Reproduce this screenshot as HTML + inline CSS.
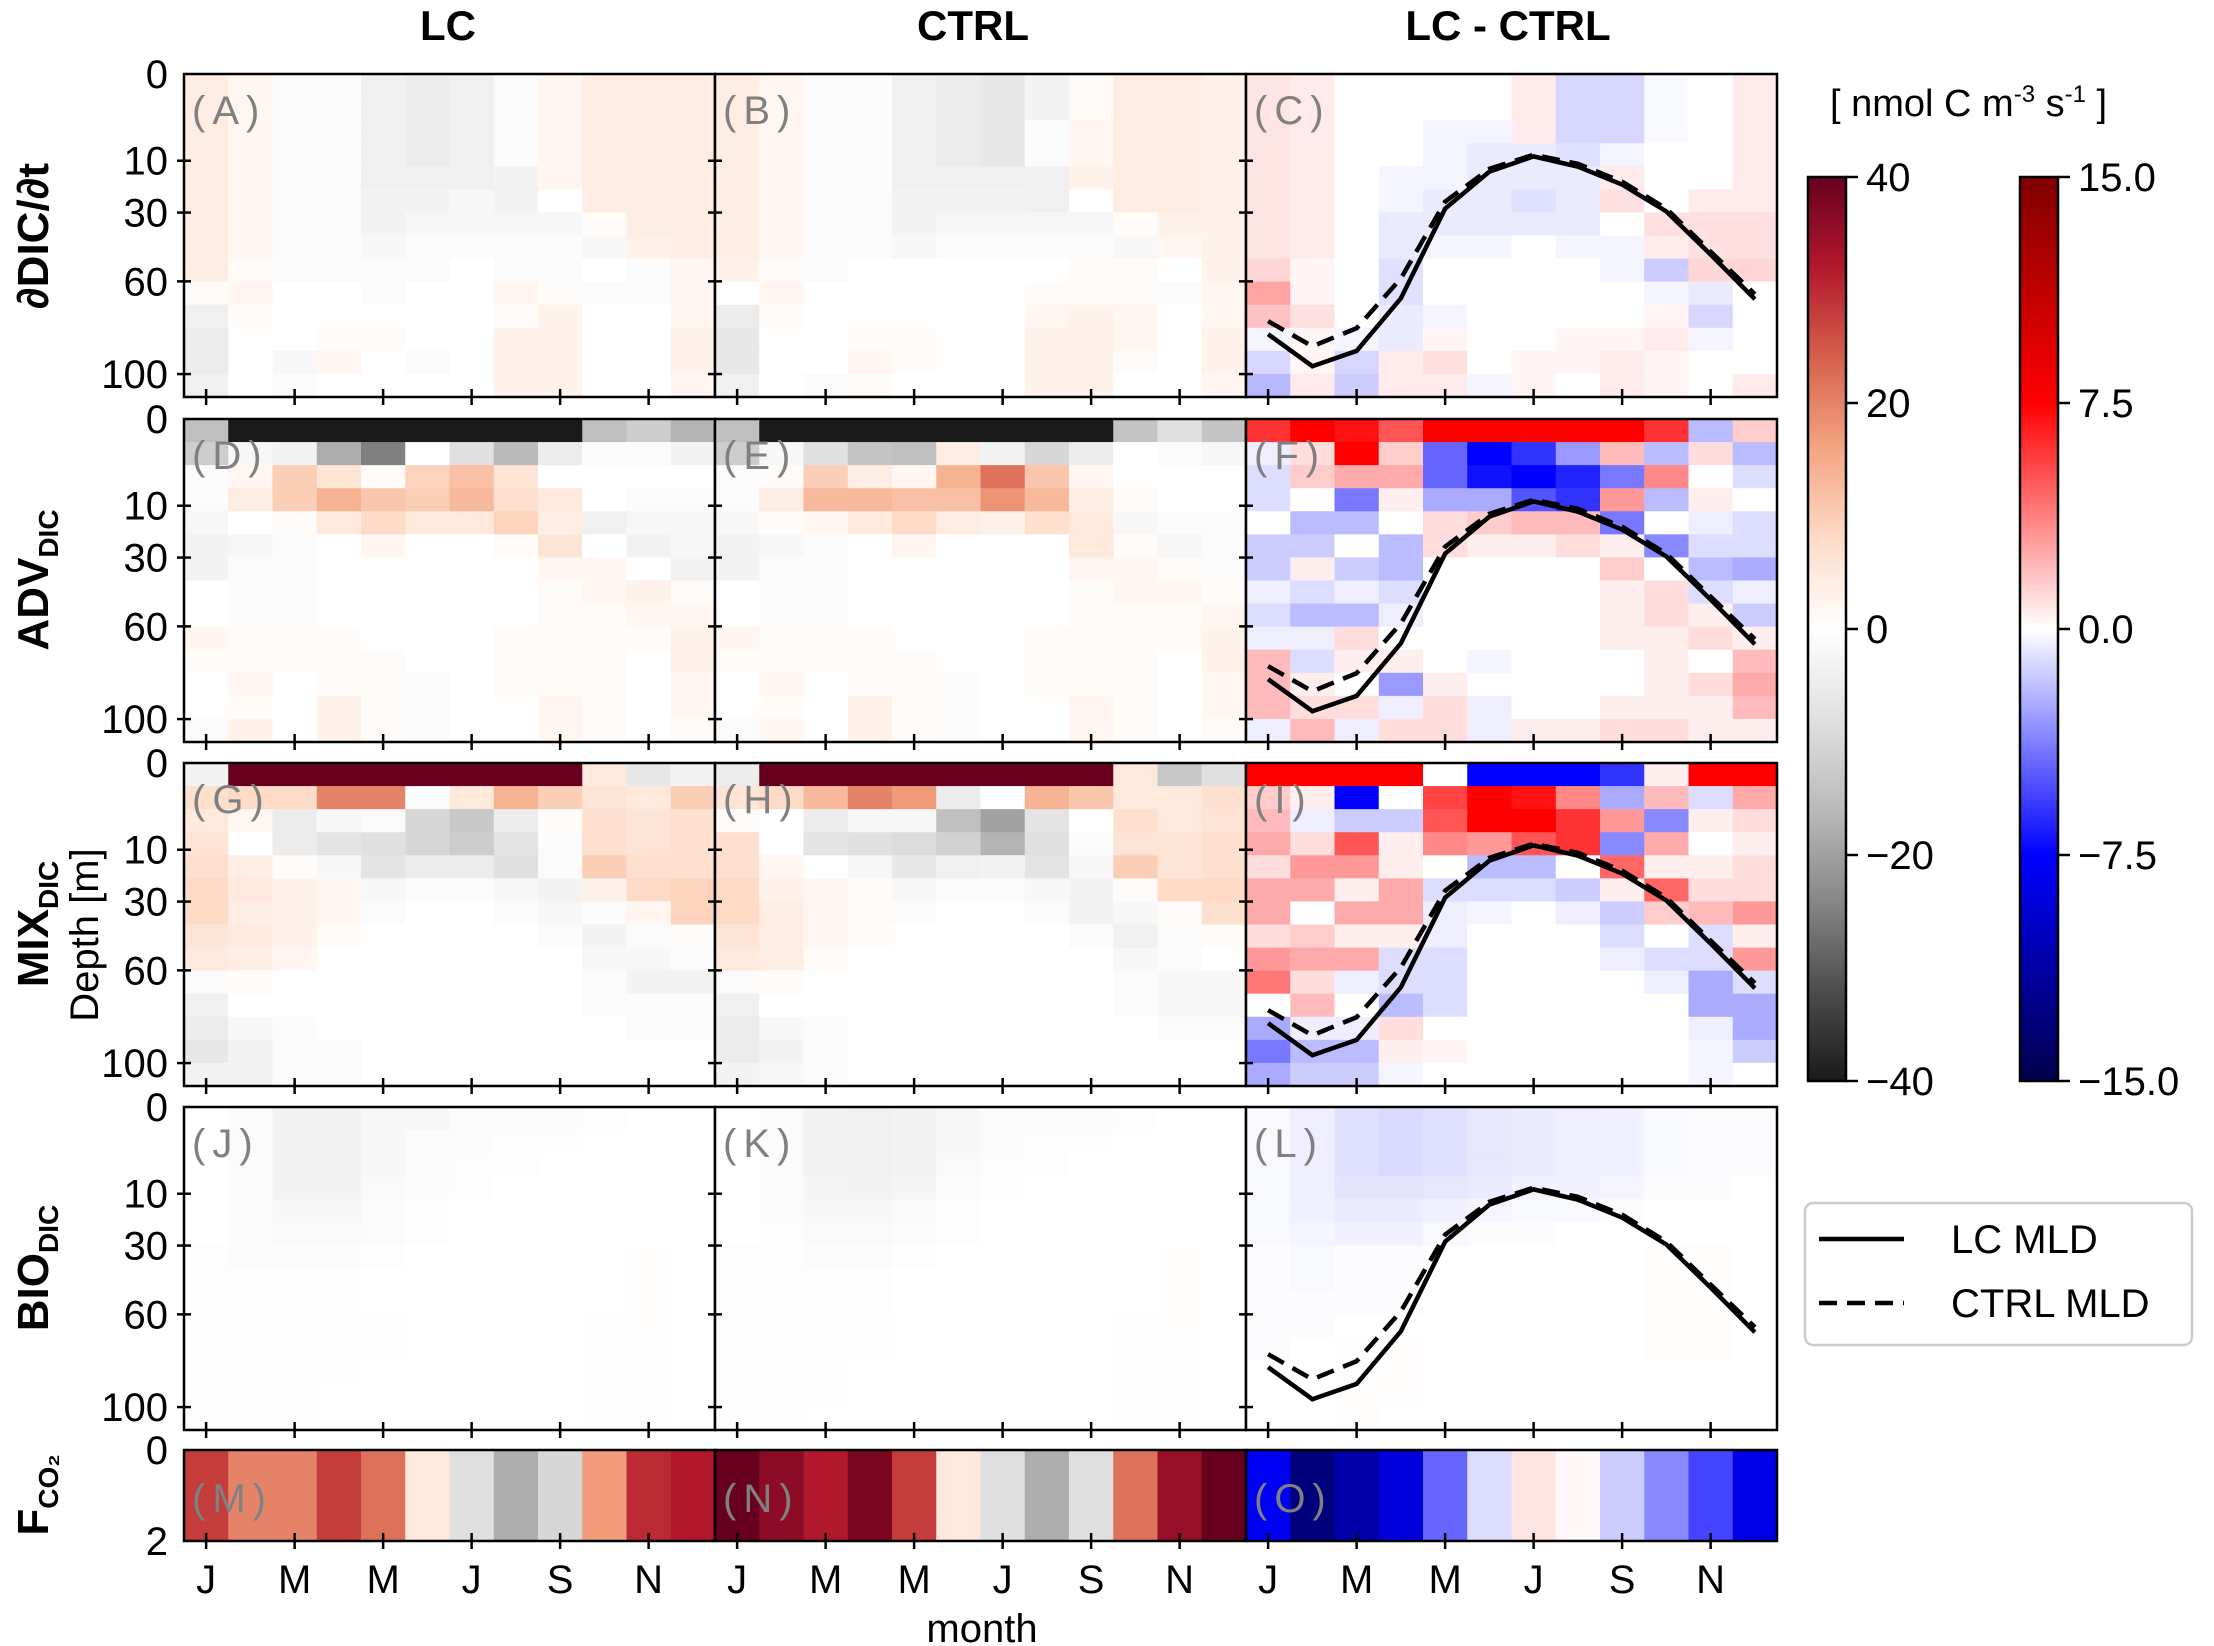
<!DOCTYPE html>
<html><head><meta charset="utf-8"><style>
html,body{margin:0;padding:0;background:#fff;}
svg{display:block;font-family:"Liberation Sans",Arial,sans-serif;}
</style></head><body>
<svg id="fig" width="2214" height="1646" viewBox="0 0 2214 1646" xmlns="http://www.w3.org/2000/svg"></svg>
<script>
const months = ['J','F','M','A','M','J','J','A','S','O','N','D'];
const depthTicks = [0,10,30,60,100];
const depthTickFrac = [0,0.2685,0.429,0.642,0.929];
const cb1Ticks = [40,20,0,-20,-40];
const cb2Ticks = ['15.0','7.5','0.0','-7.5','-15.0'];
const lcMld = [82.8,96.6,90,67.3,28.5,14.2,9.5,12.3,19.2,29.6,48.3,67.7];
const ctrlMld = [77.2,88,80.2,58.7,25.8,13.1,9.3,11.2,18.1,28.5,47,65.5];
const fco2LC = [28,20,20,28,22,5,-8,-18,-10,17,30,32];
const fco2CTRL = [40,36,32,38,28,5,-8,-18,-8,22,35,40];
const fco2Diff = [-8,-13,-11,-9,-4.5,-1,0.8,0.2,-1.5,-3.5,-5.5,-8.5];
const panelA = [
[4,2,-1,-1,-4,-5,-4,-1,2,4,4,4],[4,2,-1,-1,-4,-5,-4,-1,2,4,4,4],[4,2,-1,-1,-4,-5,-4,-1,2,4,4,4],[4,2,-1,-1,-4,-5,-4,-1,2,4,4,4],
[4,2,-1,-1,-4,-4,-4,-3,2,4,4,4],[4,2,-1,-1,-3,-3,-2,-3,0,4,4,4],[4,2,-1,-1,-3,-2,-2,-2,-2,1,4,4],[4,2,-1,-1,-2,-1,-1,-1,-1,-2,3,4],
[4,1,-1,-1,-1,-1,0,-1,-1,0,-1,2],[1,2,0,0,-1,0,0,2,1,-1,-1,2],[-4,1,0,0,0,0,0,1,3,0,0,2],[-5,0,0,1,1,0,0,3,3,0,0,3],
[-5,0,-2,2,0,-1,0,3,3,0,0,3],[-4,0,-1,0,0,0,0,3,3,0,0,2]];
const panelB = [
[4,2,-1,-1,-4,-5,-6,-3,1,4,4,3],[4,2,-1,-1,-4,-5,-6,-3,1,4,4,3],[4,2,-1,-1,-4,-5,-6,-1,2,4,4,3],[4,2,-1,-1,-4,-5,-6,-1,2,4,4,3],
[4,2,-1,-1,-4,-4,-4,-4,3,4,4,3],[4,2,-1,-1,-3,-3,-3,-4,0,4,4,3],[4,2,-1,-1,-3,-2,-2,-2,-2,1,3,3],[4,2,-1,-1,-2,-1,-1,-1,-1,-2,2,3],
[3,1,-1,0,0,0,0,0,1,1,0,3],[0,2,0,0,0,0,0,1,1,1,-1,2],[-5,1,0,0,0,0,0,2,3,2,0,2],[-6,0,0,1,1,0,0,3,3,2,0,3],
[-6,0,0,2,1,0,0,3,3,1,0,3],[-4,0,-1,1,0,0,0,3,3,0,0,2]];
const panelC = [
[0.8,0.6,0,0,0,0,0.6,-1.2,-1.2,-0.2,0,0.6],[0.8,0.6,0,0,0,0,0.6,-1.2,-1.2,-0.2,0,0.6],[0.8,0.6,0,0,-0.3,-0.3,0.6,-1.2,-1.2,-0.2,0,0.6],[0.8,0.6,0,0,-0.3,-0.6,-0.6,-0.9,-0.3,0,0,0.6],
[0.8,0.6,0,-0.3,-0.3,-0.6,-0.6,-0.6,0.6,0,0,0.6],[0.8,0.6,0,-0.3,-0.6,-0.6,-0.9,-0.6,0.9,0,0.6,0.6],[0.8,0.6,0,-0.6,-0.6,-0.6,-0.6,-0.6,0,0.9,0.9,0.9],[0.8,0.6,0,-0.6,-0.3,-0.3,0,-0.3,-0.3,0.6,0.9,0.9],
[1.2,0.3,0,-0.9,0,0,0,0,-0.3,-1.5,1.2,1.2],[2.7,0.3,0,-0.9,0,0,0,0,0,-0.3,-0.6,0],[1.8,0.9,0,-0.6,-0.3,0,0,0,0,0.3,-1.2,0],[-0.3,0.3,-0.3,-0.6,0.3,0,0,0.3,0.3,0.6,-0.3,0],
[-1.2,0.3,-1.2,0.6,0.9,0,0.3,0.3,0.6,0.3,0,0],[-2.1,0.6,-1.5,0.6,0.6,-0.3,0.3,0,0.6,0.3,0,0.6]];
const panelD = [
[-15,-40,-40,-40,-40,-40,-40,-40,-40,-15,-12,-17],[-12,-2,-3,-18,-25,0,-8,-16,-5,-1,-1,-3],[-1,2,10,6,1,9,12,6,0,0,0,0],[-1,4,10,14,11,10,13,7,5,0,-1,-1],
[-2,0,1,5,8,5,5,9,4,-4,-2,-2],[-3,-2,-1,0,2,0,0,1,6,0,-3,-2],[-3,-1,-1,0,0,0,0,0,2,2,0,-3],[0,-1,-1,0,0,0,0,0,1,2,3,1],
[0,-1,-1,0,0,0,0,0,1,1,2,2],[2,1,1,1,0,0,0,1,1,1,1,3],[1,1,1,1,1,0,0,1,1,1,0,3],[0,2,0,1,1,-1,0,1,1,1,0,2],
[0,1,0,3,1,-1,0,0,2,1,0,2],[-1,3,0,3,1,-1,0,0,2,1,0,1]];
const panelE = [
[-15,-40,-40,-40,-40,-40,-40,-40,-40,-14,-8,-14],[-12,-2,-8,-14,-15,4,-3,-10,-5,0,-1,-2],[-1,1,10,4,2,14,22,11,2,0,0,0],[-1,4,13,13,12,12,18,13,4,1,0,0],
[-2,1,2,5,8,4,3,7,5,-2,-1,-1],[-3,-2,-1,0,2,0,0,0,5,1,-2,-1],[-3,-1,-1,0,0,0,0,0,2,2,1,-1],[0,-1,-1,0,0,0,0,0,1,2,2,1],
[0,-1,-1,0,0,0,0,0,1,1,1,2],[2,1,1,1,0,0,0,1,1,1,1,3],[1,1,1,1,1,0,0,1,1,1,0,3],[0,2,0,1,1,-1,0,1,1,1,0,2],
[0,1,0,3,1,-1,0,0,2,1,0,2],[-1,2,0,3,1,-1,0,0,2,1,0,1]];
const panelF = [
[6,7.5,7,5,7.5,7.5,7.5,7.5,7.5,6,-2,1.5],[-0.5,1,7.5,1.5,-4.5,-7.5,-6,-3,2,-2,1,-2],[-1,1.5,2.5,2.5,-4.5,-7,-7.5,-6.5,-4,3.5,0,-1],[-1,0,-4,0.5,-2.5,-2.5,-5,-6,3,-2,0.5,0],
[0,-2,-2,0,1,1.5,2,2,-4,0,-0.5,-1],[-1.5,-1.5,0,-2,1,0.5,0.5,1,0.5,-3.5,-1,-1],[-1.5,0.5,-1.5,-2,0,0,0,0,1.5,0,-2,-2.5],[-0.5,-1,-0.5,-1,0,0,0,0,0.5,1,-1,-0.5],
[-1,-2,-2,-0.5,0,0,0,0,0.5,1,0.5,-1.5],[-0.5,-0.5,1,0,0,0,0,0,0.5,0.5,1,0.5],[2,-1,0.5,0.5,0,-0.3,0,0,0,0.5,0,2],[2,0.5,0,-3,0.5,0,0,0,0,0.5,1,2.5],
[2,1,1,-0.5,1,-0.5,0,0,0.5,0.5,0.5,2],[-0.5,2,-0.5,1,1,-0.5,0.5,0.5,1,1,0.5,0.5]];
const panelG = [
[-3,40,40,40,40,40,40,40,40,5,-6,-3],[7,8,8,20,20,-1,5,14,10,6,5,10],[5,2,-5,-2,-1,-10,-13,-5,1,7,6,7],[6,0,-5,-7,-8,-10,-12,-7,-1,7,6,7],
[7,4,1,-2,-7,-5,-5,-8,-1,10,7,7],[8,5,3,2,-2,-1,-1,-2,-3,3,8,9],[8,4,3,2,-1,0,0,-1,-2,-1,2,9],[6,5,3,1,0,0,0,0,-1,-3,-1,1],
[5,4,2,0,0,0,0,0,0,-2,-2,-1],[-1,1,0,0,0,0,0,0,0,-1,-3,-3],[-4,0,0,0,0,0,0,0,0,-1,-1,-1],[-5,-2,-1,0,0,0,0,0,0,0,-1,-1],
[-6,-3,-1,-1,0,0,0,0,0,0,0,0],[-3,-3,-1,-1,0,0,0,0,0,0,0,0]];
const panelH = [
[-5,40,40,40,40,40,40,40,40,5,-13,-8],[6,8,13,20,17,-5,0,14,11,5,5,7],[1,0,-5,-2,-2,-15,-20,-7,0,7,5,6],[7,0,-7,-8,-9,-11,-17,-8,-1,6,6,7],
[7,2,0,-2,-6,-4,-3,-7,-2,10,6,7],[8,3,2,1,-2,-1,-1,-2,-3,1,8,8],[8,4,2,1,-1,0,0,-1,-3,-2,1,7],[6,4,2,1,0,0,0,0,-1,-4,-1,1],
[5,4,1,0,0,0,0,0,0,-2,-1,0],[-1,1,0,0,0,0,0,0,0,-1,-2,-2],[-4,0,0,0,0,0,0,0,0,-1,-2,-2],[-5,-2,-1,0,0,0,0,0,0,0,-1,-1],
[-5,-3,-1,0,0,0,0,0,0,0,0,0],[-3,-2,-1,0,0,0,0,0,0,0,0,0]];
const panelI = [
[7.5,7.5,7.5,7.5,0,-7.5,-7.5,-7.5,-6,0.5,7.5,7.5],[1.5,0.5,-7.5,0,5.5,7.5,7,3.5,-2.5,2,-1,2.5],[2,-0.5,-1.5,-1.5,5,7.5,7.5,6,3,-3.5,0.5,1],[2.5,1,5,0.5,3.5,3,5,6,-3.5,2.5,0,0.5],
[1,3,3,0.5,0,-2,-2,0,4.5,0.5,0.5,1],[2.5,2.5,0.5,2.5,-1,-1,-1,-1.5,0.5,4.5,1,1],[2.5,0,2.5,2.5,-0.5,-0.3,0,-0.5,-1.5,1.5,2,3],[1,1.5,0.5,0.5,-0.5,0,0,0,-1,0,-1,0.5],
[3,2.5,2.5,-1,-1,0,0,0,-0.5,-1,-1,3],[4,1,-0.5,-1,-1,0,0,0,0,-0.5,-2.5,-1],[0,2,0,-2,-1,0,0,0,0,0,-2.5,-2.5],[-2.5,-0.5,-0.5,1,0,0,0,0,0,0,-0.5,-2.5],
[-4,-2,-2,0.5,0.3,0,0,0,0,0,-0.3,-1.5],[-2.5,-1.5,-1.5,-0.3,0,0,0,0,0,0,-0.3,0]];
const panelJ = [
[0,-1,-3,-3,-2,-2,-1,-1,-1,-0.5,0,0],[0,-1,-3,-3,-2,-1,-1,-0.5,-0.5,0,0,0],[0,-1,-3,-3,-2,-1,-0.5,-0.5,0,0,0,0],[0,-1,-3,-3,-1.5,-1,-0.5,0,0,0,0,0],
[0,-1,-2,-2,-1,-0.5,0,0,0,0,0,0],[0,-1,-1.5,-1.5,-1,-0.5,0,0,0,0,0,0],[-0.5,-1,-1,-1,-0.5,0,0,0,0,0,0.3,0],[-0.5,-0.5,-0.5,-0.5,0,0,0,0,0,0,0.3,0],
[-0.5,-0.5,-0.5,-0.5,0,0,0,0,0,0,0.3,0],[-0.5,-0.5,-0.5,-0.3,-0.3,0,0,0,0,0.2,0.3,0],[-0.5,-0.5,-0.5,-0.3,-0.3,0,0,0,0,0.2,0.2,0],[-0.5,-0.5,-0.3,-0.3,0,0,0,0,0,0.2,0.2,0],
[-0.5,-0.3,-0.3,0,0,0,0,0,0,0.2,0.2,0],[-0.3,-0.3,-0.3,0,0,0,0,0,0,0.2,0.2,0]];
const panelK = [
[0,-1,-3,-4,-3,-2,-1,-1,-1,-0.5,0,0],[0,-1,-3,-3.5,-3,-2,-1,-0.5,-0.5,0,0,0],[0,-1,-3,-3.5,-3,-1.5,-0.5,-0.5,0,0,0,0],[0,-1,-2.5,-3,-2.5,-1,-0.5,0,0,0,0,0],
[0,-1,-2,-2,-1.5,-0.5,0,0,0,0,0,0],[0,-0.5,-1.5,-1.5,-1,-0.5,0,0,0,0,0,0],[-0.5,-0.5,-1,-1,-0.5,0,0,0,0,0,0.3,0],[-0.5,-0.5,-0.5,-0.5,0,0,0,0,0,0,0.3,0],
[-0.5,-0.5,-0.5,-0.5,0,0,0,0,0,0,0.3,0],[-0.5,-0.5,-0.3,-0.3,0,0,0,0,0,0.2,0.3,0],[-0.5,-0.5,-0.3,-0.3,0,0,0,0,0,0.2,0.2,0],[-0.5,-0.3,-0.3,0,0,0,0,0,0,0.2,0.2,0],
[-0.3,-0.3,-0.3,0,0,0,0,0,0,0.2,0.2,0],[-0.3,-0.3,0,0,0,0,0,0,0,0.2,0.2,0]];
const panelL = [
[-0.2,-0.5,-0.9,-1.1,-0.9,-0.7,-0.6,-0.5,-0.4,-0.2,-0.1,-0.1],[-0.2,-0.5,-0.9,-1.1,-0.9,-0.7,-0.6,-0.5,-0.4,-0.2,-0.1,-0.1],[-0.2,-0.5,-0.9,-1.1,-0.9,-0.7,-0.6,-0.5,-0.4,-0.2,-0.1,-0.1],[-0.2,-0.5,-0.8,-0.8,-0.7,-0.6,-0.4,-0.4,-0.3,-0.1,-0.1,0],
[-0.2,-0.4,-0.6,-0.6,-0.4,-0.3,-0.2,-0.2,-0.1,0,0,0],[-0.2,-0.3,-0.4,-0.4,-0.2,-0.1,-0.1,0,0,0,0,0],[-0.1,-0.2,-0.1,-0.1,0,0,0,0,0,0.1,0.1,0],[-0.1,-0.2,-0.1,-0.1,0,0,0,0,0,0.1,0.1,0],
[-0.1,-0.1,-0.1,-0.1,0,0,0,0,0,0.1,0.1,0],[-0.1,-0.1,0,0,0,0,0,0,0,0.1,0.1,0],[-0.1,0,0.1,0.1,0,0,0,0,0,0.1,0.1,0],[0,0,0.1,0.1,0,0,0,0,0,0,0,0],
[0,0,0.1,0.1,0,0,0,0,0,0,0,0],[0,0,0.1,0,0,0,0,0,0,0,0,0]];

const NS='http://www.w3.org/2000/svg';
const svg=document.getElementById('fig');
function mk(tag,attrs,parent){const e=document.createElementNS(NS,tag);for(const k in attrs)e.setAttribute(k,attrs[k]);(parent||svg).appendChild(e);return e;}
function hex(h){return [parseInt(h.substr(1,2),16),parseInt(h.substr(3,2),16),parseInt(h.substr(5,2),16)];}
const rdgyStops=['#1a1a1a','#4d4d4d','#878787','#bababa','#e0e0e0','#ffffff','#fddbc7','#f4a582','#d6604d','#b2182b','#67001f'].map(hex);
const seisStops=[[0,0,76],[0,0,255],[255,255,255],[255,0,0],[128,0,0]];
function interp(stops,t){t=Math.max(0,Math.min(1,t));const n=stops.length-1;const f=t*n;const i=Math.min(n-1,Math.floor(f));const u=f-i;const a=stops[i],b=stops[i+1];return 'rgb('+a.map((v,k)=>Math.round(v+(b[k]-v)*u)).join(',')+')';}
function c1(v){return interp(rdgyStops,(v+40)/80);}
function c2(v){return interp(seisStops,(v+15)/30);}

const colX=[184,715,1246], colW=531;
const rowY=[74,419,763,1107], rowH=323;
const nRows=14;
function xMonth(x0,i){return x0+(i+0.5)*colW/12;}
function yDepth(y0,d){const T=depthTicks,F=depthTickFrac;let k=0;while(k<T.length-2&&d>T[k+1])k++;const f=F[k]+(d-T[k])/(T[k+1]-T[k])*(F[k+1]-F[k]);return y0+f*rowH;}

[['LC',448,'title-lc'],['CTRL',973,'title-ctrl'],['LC - CTRL',1508,'title-diff']].forEach(t=>{
 const e=mk('text',{x:t[1],y:40,'text-anchor':'middle','font-size':42,'font-weight':'bold'});e.textContent=t[0];
 
 
});
const panels=[[panelA,panelB,panelC],[panelD,panelE,panelF],[panelG,panelH,panelI],[panelJ,panelK,panelL]];
const letters=[['A','B','C'],['D','E','F'],['G','H','I'],['J','K','L']];
for(let r=0;r<4;r++){for(let c=0;c<3;c++){
 const g=mk('g',{});
 
 
 const data=panels[r][c], x0=colX[c], y0=rowY[r], ch=rowH/nRows, cw=colW/12;
 for(let i=0;i<nRows;i++)for(let j=0;j<12;j++){
  const v=data[i][j];
  const rc=mk('rect',{x:(x0+j*cw).toFixed(2),y:(y0+i*ch).toFixed(2),width:(cw+0.6).toFixed(2),height:(ch+0.6).toFixed(2),fill:c===2?c2(v):c1(v)},g);
  
  
 }
 if(c===2){
  [[lcMld,'none','mld-line-lc'],[ctrlMld,'18,10','mld-line-ctrl']].forEach(s=>{
   const pts=s[0].map((d,i)=>xMonth(x0,i).toFixed(1)+','+yDepth(y0,d).toFixed(1)).join(' ');
   const pl=mk('polyline',{points:pts,fill:'none',stroke:'#000','stroke-width':4.5,'stroke-dasharray':s[1]},g);
   
   
  });
 }
 const lt=mk('text',{x:x0+8,y:y0+50,'font-size':40,fill:'#808080','letter-spacing':'7'},g);lt.textContent='('+letters[r][c]+')';
 
 
 mk('rect',{x:x0,y:y0,width:colW,height:rowH,fill:'none',stroke:'#000','stroke-width':2.5},g);
 for(let k=1;k<depthTicks.length;k++){const yy=yDepth(y0,depthTicks[k]);mk('line',{x1:x0-7,x2:x0+7,y1:yy,y2:yy,stroke:'#000','stroke-width':2.5},g);}
 for(let i=0;i<12;i+=2){const xx=xMonth(x0,i);mk('line',{x1:xx,x2:xx,y1:y0+rowH-8,y2:y0+rowH+8,stroke:'#000','stroke-width':2.5},g);}
}
 depthTicks.forEach(d=>{const t=mk('text',{x:168,y:yDepth(rowY[r],d)+14,'text-anchor':'end','font-size':40});t.textContent=d;
  
  });
}
const fy0=1450, fh=91, fdata=[fco2LC,fco2CTRL,fco2Diff], fl=['M','N','O'];
for(let c=0;c<3;c++){
 const g=mk('g',{});
 
 
 const x0=colX[c], cw=colW/12;
 fdata[c].forEach((v,j)=>{const rc=mk('rect',{x:(x0+j*cw).toFixed(2),y:fy0,width:(cw+0.6).toFixed(2),height:fh,fill:c===2?c2(v):c1(v)},g);
  
  });
 const lt=mk('text',{x:x0+8,y:fy0+62,'font-size':40,fill:'#808080','letter-spacing':'7'},g);lt.textContent='('+fl[c]+')';
 
 
 mk('rect',{x:x0,y:fy0,width:colW,height:fh,fill:'none',stroke:'#000','stroke-width':2.5},g);
 for(let i=0;i<12;i+=2){const xx=xMonth(x0,i);mk('line',{x1:xx,x2:xx,y1:fy0+fh-8,y2:fy0+fh+8,stroke:'#000','stroke-width':2.5},g);
  const t=mk('text',{x:xx,y:1593,'text-anchor':'middle','font-size':40});t.textContent=months[i];
  
  }
}
[['0',fy0+14],['2',fy0+fh+14]].forEach(a=>{const t=mk('text',{x:168,y:a[1],'text-anchor':'end','font-size':40});t.textContent=a[0];
 
 });
</script>
<svg style="position:absolute;left:0;top:0" width="2214" height="1646" font-family="Liberation Sans, Arial, sans-serif">
<text transform="translate(48,236) rotate(-90)" text-anchor="middle" font-size="44" font-weight="bold">∂DIC/∂t</text>
<text transform="translate(48,580) rotate(-90)" text-anchor="middle" font-size="44" font-weight="bold">ADV<tspan font-size="28" dy="10">DIC</tspan></text>
<text transform="translate(48,924) rotate(-90)" text-anchor="middle" font-size="44" font-weight="bold">MIX<tspan font-size="28" dy="10">DIC</tspan></text>
<text transform="translate(48,1268) rotate(-90)" text-anchor="middle" font-size="44" font-weight="bold">BIO<tspan font-size="28" dy="10">DIC</tspan></text>
<text transform="translate(48,1495) rotate(-90)" text-anchor="middle" font-size="44" font-weight="bold">F<tspan font-size="28" dy="10">CO₂</tspan></text>
<text transform="translate(98,935) rotate(-90)" text-anchor="middle" font-size="40">Depth [m]</text>
<text x="982" y="1642" text-anchor="middle" font-size="40">month</text>
<text x="1830" y="116" font-size="38">[ nmol C m<tspan font-size="24" dy="-14">-3</tspan><tspan dy="14"> s</tspan><tspan font-size="24" dy="-14">-1</tspan><tspan dy="14"> ]</tspan></text>
<g>
<rect x="1805" y="1203" width="387" height="142" rx="8" fill="#fff" stroke="#ccc" stroke-width="2.5"/>
<line x1="1819" x2="1904" y1="1239" y2="1239" stroke="#000" stroke-width="4.5"/>
<text x="1951" y="1253" font-size="40">LC MLD</text>
<line x1="1819" x2="1904" y1="1303" y2="1303" stroke="#000" stroke-width="4.5" stroke-dasharray="18,10"/>
<text x="1951" y="1317" font-size="40">CTRL MLD</text>
</g>
</svg>
<script>
(function(){
const s2=document.querySelectorAll('svg')[1];
function mk(tag,attrs){const e=document.createElementNS('http://www.w3.org/2000/svg',tag);for(const k in attrs)e.setAttribute(k,attrs[k]);s2.appendChild(e);return e;}
const defs=mk('defs',{});
function grad(id,stops){const g=document.createElementNS('http://www.w3.org/2000/svg','linearGradient');g.setAttribute('id',id);g.setAttribute('x1','0');g.setAttribute('y1','1');g.setAttribute('x2','0');g.setAttribute('y2','0');
 stops.forEach((c,i)=>{const s=document.createElementNS('http://www.w3.org/2000/svg','stop');s.setAttribute('offset',i/(stops.length-1));s.setAttribute('stop-color',c);g.appendChild(s);});defs.appendChild(g);}
grad('g1',['#1a1a1a','#4d4d4d','#878787','#bababa','#e0e0e0','#ffffff','#fddbc7','#f4a582','#d6604d','#b2182b','#67001f']);
grad('g2',['#00004c','#0000ff','#ffffff','#ff0000','#800000']);
const cbTop=177, cbH=904;
[[1808,'g1',cb1Ticks,'colorbar-abs'],[2020,'g2',cb2Ticks,'colorbar-diff']].forEach(cb=>{
 const r=mk('rect',{x:cb[0],y:cbTop,width:38,height:cbH,fill:'url(#'+cb[1]+')',stroke:'#000','stroke-width':2.5});
 
 
 cb[2].forEach((t,i)=>{const y=cbTop+i*cbH/(cb[2].length-1);
  mk('line',{x1:cb[0]+38,x2:cb[0]+50,y1:y,y2:y,stroke:'#000','stroke-width':2.5});
  const tx=mk('text',{x:cb[0]+58,y:y+14,'font-size':40});tx.textContent=String(t).replace('-','\u2212');
  
  });
});
})();
</script>
</body></html>
